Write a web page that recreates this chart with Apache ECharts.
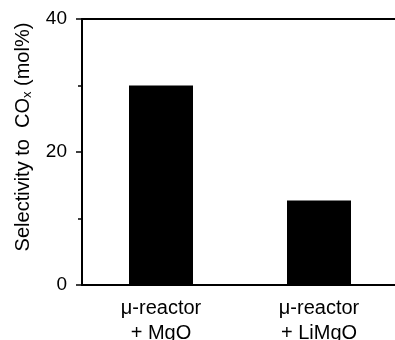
<!DOCTYPE html>
<html><head><meta charset="utf-8">
<script src="https://cdn.jsdelivr.net/npm/echarts@6/dist/echarts.min.js"></script>
<style>html,body{margin:0;padding:0;background:#fff}#c{width:395px;height:340px}</style>
</head><body><div id="c"></div>
<script>
const categories = ['μ-reactor\n+ MgO', 'μ-reactor\n+ LiMgO'];
const selectivity = [30, 12.7];
const yTicks = [0, 20, 40];

const chart = echarts.init(document.getElementById('c'), null, {renderer: 'canvas'});
const font = 'Liberation Sans, Arial, sans-serif';
chart.setOption({
  animation: false,
  grid: {left: 82, top: 19, width: 316, height: 266, containLabel: false, outerBoundsMode: 'none'},
  xAxis: [{
    type: 'category', data: categories, position: 'bottom',
    axisLine: {show: true, lineStyle: {color: '#000', width: 2}},
    axisTick: {show: false},
    axisLabel: {color: '#000', fontFamily: font, fontSize: 20, lineHeight: 25, margin: 11}
  }, {
    type: 'category', data: categories, position: 'top',
    axisLine: {show: true, lineStyle: {color: '#000', width: 2}},
    axisTick: {show: false}, axisLabel: {show: false}
  }],
  yAxis: {
    type: 'value', min: yTicks[0], max: yTicks[yTicks.length - 1], interval: 20,
    axisLine: {show: true, lineStyle: {color: '#000', width: 2}},
    axisTick: {show: true, inside: false, length: 6, lineStyle: {color: '#000', width: 1.5}},
    minorTick: {show: true, splitNumber: 2, length: 4, lineStyle: {color: '#000', width: 1.5}},
    splitLine: {show: false},
    axisLabel: {color: '#000', fontFamily: font, fontSize: 19, margin: 15},
    name: '{a|Selectivity to  CO}{s|x}{a| (mol%)}',
    nameLocation: 'middle', nameRotate: 90, nameGap: 48,
    nameTextStyle: {
      color: '#000', fontFamily: font, fontSize: 20,
      padding: [0, 0, 0, 30],
      rich: {
        a: {color: '#000', fontFamily: font, fontSize: 20},
        s: {color: '#000', fontFamily: font, fontSize: 13, verticalAlign: 'bottom', padding: [9, 0, 0, 0]}
      }
    }
  },
  series: [{
    type: 'bar', data: selectivity, barWidth: 64,
    itemStyle: {color: '#000'}
  }]
});
</script></body></html>
